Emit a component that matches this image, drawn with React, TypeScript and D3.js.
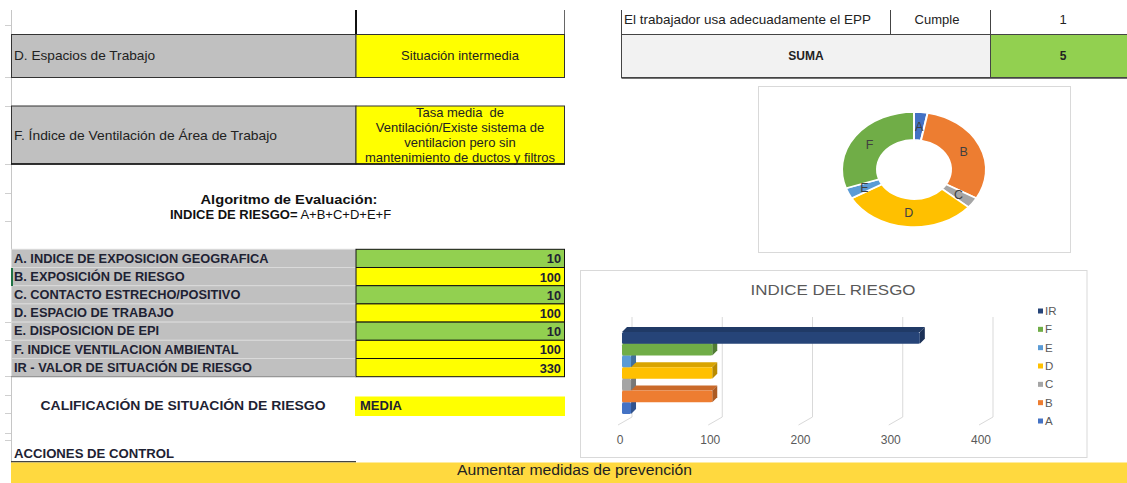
import React from 'react';
import * as d3 from 'd3';

// ---------- data ----------
const pieCategories = ['A', 'B', 'C', 'D', 'E', 'F'];
const pieValues = [10, 100, 10, 100, 10, 100];
const barCategories = ['A', 'B', 'C', 'D', 'E', 'F', 'IR'];
const barValues = [10, 100, 10, 100, 10, 100, 330];
const axisTicks = [0, 100, 200, 300, 400];
const indexLabels = [
  'A. INDICE DE EXPOSICION GEOGRAFICA',
  'B. EXPOSICIÓN DE RIESGO',
  'C. CONTACTO ESTRECHO/POSITIVO',
  'D. ESPACIO DE TRABAJO',
  'E. DISPOSICION DE EPI',
  'F. INDICE VENTILACION AMBIENTAL',
  'IR - VALOR DE SITUACIÓN DE RIESGO',
];
const indexValues = [10, 100, 10, 100, 10, 100, 330];
const ventilationLines = [
  'Tasa media  de',
  'Ventilación/Existe sistema de',
  'ventilacion pero sin',
  'mantenimiento de ductos y filtros',
];
const eppRow = ['El trabajador usa adecuadamente el EPP', 'Cumple', '1'];
const sumaRow = ['SUMA', '5'];

const colors: Record<string, string> = {
  A: '#4472c4', B: '#ed7d31', C: '#a5a5a5', D: '#ffc000', E: '#5b9bd5', F: '#70ad47', IR: '#264478',
};

const FONT = '"Liberation Sans", Arial, Helvetica, sans-serif';
const GRAY = '#c0c0c0';
const YELLOW = '#ffff00';
const GREEN = '#92d050';
const cellFill = (v: number) => (v <= 10 ? GREEN : YELLOW);

export default function App() {
  // donut
  const pieGen = d3.pie<number>().sort(null).value((d) => d);
  const arcs = pieGen(pieValues);
  const arcGen = d3.arc<d3.PieArcDatum<number>>().innerRadius(37).outerRadius(72);
  const dcx = 914, dcy = 169.5, dsy = 0.8;

  // bars
  const x = d3.scaleLinear().domain([0, 400]).range([622, 983]);
  const y = d3.scaleBand<string>().domain([...barCategories].reverse()).range([332, 414]).padding(0);
  const bw = y.bandwidth();
  const dep = 5;
  const legendY = d3.scalePoint<string>().domain([...barCategories].reverse()).range([311, 421]);

  const rowY = (i: number) => 249.3 + i * 18.2;
  const leftTicks = [25, 77, 106, 164, 193, 221, 322, 340, 376, 395, 413, 433, 440];

  return (
    <svg
      width={1127}
      height={483}
      style={{ position: 'absolute', left: 0, top: 0, display: 'block', background: '#fff' }}
      fontFamily={FONT}
    >
      <rect x={0} y={0} width={1127} height={483} fill="#fff" />
      {/* left sheet edge */}
      <line x1={11.5} y1={10} x2={11.5} y2={463} stroke="#c6c6c6" />
      {leftTicks.map((t) => (
        <line key={t} x1={5} x2={11} y1={t + 0.5} y2={t + 0.5} stroke="#cfcfcf" />
      ))}

      {/* top left empty row */}
      <line x1={356} y1={10} x2={356} y2={35} stroke="#111" strokeWidth={2} />
      <line x1={564.5} y1={10} x2={564.5} y2={35} stroke="#666" />

      {/* D row */}
      <rect x={11.5} y={34.5} width={344.5} height={43} fill={GRAY} stroke="#333" />
      <rect x={356} y={34.5} width={208.5} height={43} fill={YELLOW} stroke="#333" />
      <text x={14} y={60} fontSize={13} fill="#222" textLength={141} lengthAdjust="spacingAndGlyphs">
        D. Espacios de Trabajo
      </text>
      <text x={460} y={60} fontSize={13} fill="#222" textAnchor="middle">
        Situación intermedia
      </text>

      {/* F row */}
      <rect x={11.5} y={106} width={344.5} height={58} fill={GRAY} stroke="#333" />
      <rect x={356} y={106} width={208.5} height={58} fill={YELLOW} stroke="#333" />
      <line x1={11} x2={565} y1={164} y2={164} stroke="#111" strokeWidth={1.6} />
      <text x={14} y={140} fontSize={13} fill="#222" textLength={263} lengthAdjust="spacingAndGlyphs">
        F. Índice de Ventilación de Área de Trabajo
      </text>
      {ventilationLines.map((l, i) => (
        <text key={i} x={460} y={117 + i * 15} fontSize={13} fill="#222" textAnchor="middle" style={{ whiteSpace: 'pre' }}>
          {l}
        </text>
      ))}

      {/* algorithm */}
      <text x={289} y={204} fontSize={13.5} fontWeight="bold" fill="#111" textAnchor="middle" textLength={177} lengthAdjust="spacingAndGlyphs">
        Algoritmo de Evaluación:
      </text>
      <text x={170} y={219} fontSize={13} fill="#111" style={{ whiteSpace: 'pre' }}>
        <tspan fontWeight="bold">INDICE DE RIESGO=</tspan>
        <tspan>{' A+B+C+D+E+F'}</tspan>
      </text>

      {/* index table */}
      {indexLabels.map((lab, i) => {
        const yy = rowY(i);
        return (
          <g key={lab}>
            <rect x={11.5} y={yy} width={344.5} height={18.2} fill={GRAY} stroke="#dadada" />
            <rect x={356} y={yy} width={208.5} height={18.2} fill={cellFill(indexValues[i])} stroke="#111" />
            <text x={14} y={yy + 13.3} fontSize={12.8} fontWeight="bold" fill="#1e2233">
              {lab}
            </text>
            <text x={561} y={yy + 14} fontSize={12.8} fontWeight="bold" fill="#1e2233" textAnchor="end">
              {indexValues[i]}
            </text>
          </g>
        );
      })}
      <line x1={11} x2={356} y1={376.7} y2={376.7} stroke="#888" />
      <rect x={11} y={268} width={2} height={18} fill="#217346" />

      {/* calificacion */}
      <text x={40.5} y={410} fontSize={13} fontWeight="bold" fill="#1e2233" textLength={285} lengthAdjust="spacingAndGlyphs">
        CALIFICACIÓN DE SITUACIÓN DE RIESGO
      </text>
      <rect x={355} y={396.5} width={210} height={19.5} fill={YELLOW} />
      <text x={360} y={410} fontSize={13} fontWeight="bold" fill="#1e2233">
        MEDIA
      </text>

      {/* acciones */}
      <text x={14} y={458} fontSize={12.5} fontWeight="bold" fill="#1e2233" textLength={160} lengthAdjust="spacingAndGlyphs">
        ACCIONES DE CONTROL
      </text>
      <line x1={11} x2={356} y1={461.7} y2={461.7} stroke="#444" strokeWidth={1.5} />
      <rect x={11} y={462.5} width={1116} height={21} fill="#ffd93f" />
      <text x={574.5} y={475} fontSize={14} fill="#222" textAnchor="middle" textLength={235} lengthAdjust="spacingAndGlyphs">
        Aumentar medidas de prevención
      </text>

      {/* top right table */}
      <line x1={621.5} y1={10} x2={621.5} y2={78} stroke="#444" />
      <line x1={890.5} y1={10} x2={890.5} y2={34.5} stroke="#444" />
      <line x1={990.5} y1={10} x2={990.5} y2={78} stroke="#444" />
      <rect x={621.5} y={34.5} width={369} height={43} fill="#f2f2f2" stroke="#444" />
      <rect x={990.5} y={34.5} width={140} height={43} fill={GREEN} stroke="#444" />
      <line x1={621.5} x2={1127} y1={78} y2={78} stroke="#444" strokeWidth={1.5} />
      <text x={624} y={24} fontSize={13} fill="#222" textLength={247} lengthAdjust="spacingAndGlyphs">
        {eppRow[0]}
      </text>
      <text x={937} y={24} fontSize={13} fill="#222" textAnchor="middle">
        {eppRow[1]}
      </text>
      <text x={1063} y={24} fontSize={13} fill="#222" textAnchor="middle">
        {eppRow[2]}
      </text>
      <text x={806} y={60} fontSize={12} fontWeight="bold" fill="#222" textAnchor="middle">
        {sumaRow[0]}
      </text>
      <text x={1063} y={60} fontSize={12} fontWeight="bold" fill="#222" textAnchor="middle">
        {sumaRow[1]}
      </text>

      {/* donut chart */}
      <rect x={758.5} y={86.5} width={312} height={166} fill="#fff" stroke="#d9d9d9" />
      <g transform={`translate(${dcx},${dcy}) scale(1,${dsy})`}>
        {arcs.map((a, i) => (
          <path key={i} d={arcGen(a) || ''} fill={colors[pieCategories[i]]} stroke="#fff" strokeWidth={2} />
        ))}
      </g>
      {arcs.map((a, i) => {
        const [cx, cy] = arcGen.centroid(a);
        return (
          <text key={i} x={dcx + cx} y={dcy + cy * dsy + 4.5} fontSize={12.5} fill="#404040" textAnchor="middle">
            {pieCategories[i]}
          </text>
        );
      })}

      {/* bar chart */}
      <rect x={580.5} y={270.5} width={506.5} height={187} fill="#fff" stroke="#d9d9d9" />
      <text x={833} y={295} fontSize={15} fill="#595959" textAnchor="middle" textLength={165} lengthAdjust="spacingAndGlyphs">
        INDICE DEL RIESGO
      </text>
      {axisTicks.map((t) => (
        <g key={t}>
          <polyline
            points={`${x(t) + 10},317 ${x(t) + 10},417 ${x(t) - 4},425`}
            fill="none"
            stroke="#d9d9d9"
            strokeWidth={1}
          />
          <text x={x(t) - 2} y={443.5} fontSize={12} fill="#595959" textAnchor="middle">
            {t}
          </text>
        </g>
      ))}
      {barCategories.map((c, i) => {
        const v = barValues[i];
        const x0 = x(0);
        const x1 = x(v);
        const y0 = y(c) as number;
        const base = d3.color(colors[c])!;
        const top = base.darker(0.45).formatHex();
        const side = base.darker(0.9).formatHex();
        return (
          <g key={c}>
            <polygon points={`${x0},${y0} ${x0 + dep},${y0 - dep} ${x1 + dep},${y0 - dep} ${x1},${y0}`} fill={top} />
            <polygon points={`${x1},${y0} ${x1 + dep},${y0 - dep} ${x1 + dep},${y0 + bw - dep} ${x1},${y0 + bw}`} fill={side} />
            <rect x={x0} y={y0} width={x1 - x0} height={bw} fill={colors[c]} rx={1.5} />
          </g>
        );
      })}
      {[...barCategories].reverse().map((c) => (
        <g key={c}>
          <rect x={1038} y={(legendY(c) as number) - 2.5} width={5} height={5} fill={colors[c]} />
          <text x={1045} y={(legendY(c) as number) + 4} fontSize={11.5} fill="#595959">
            {c}
          </text>
        </g>
      ))}
    </svg>
  );
}
